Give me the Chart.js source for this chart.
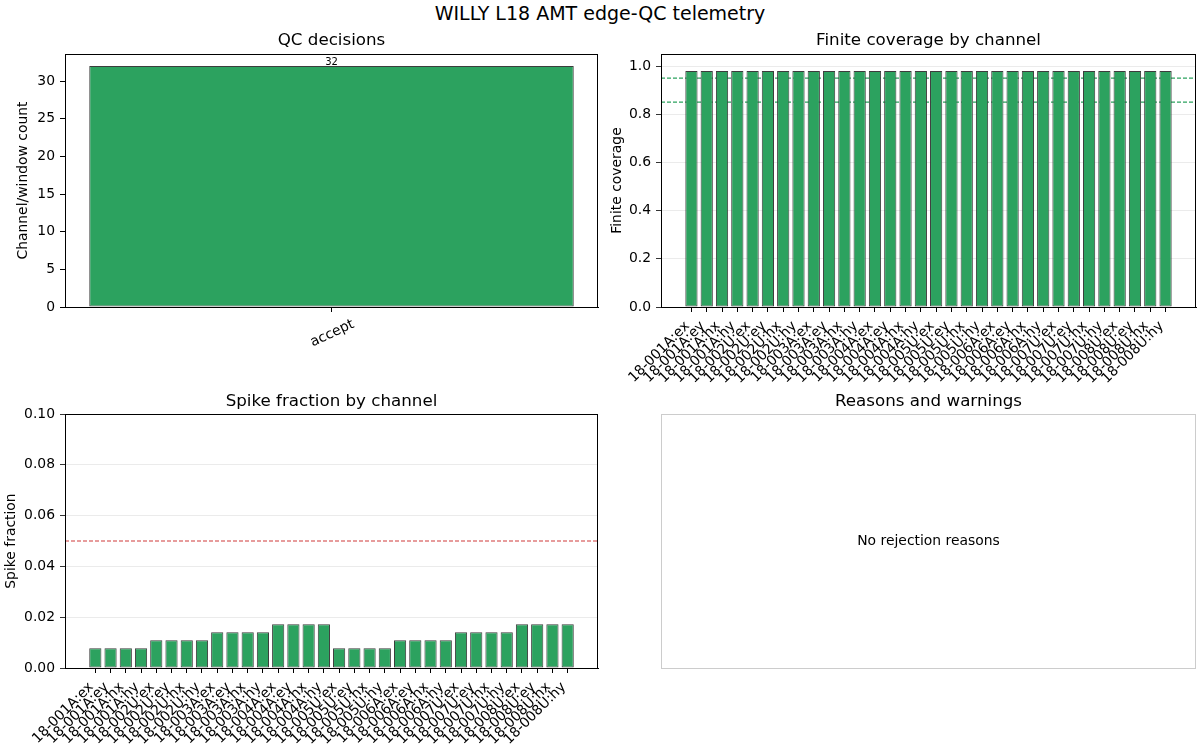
<!DOCTYPE html>
<html>
<head>
<meta charset="utf-8">
<script src="https://cdn.jsdelivr.net/npm/chart.js@4/dist/chart.umd.min.js"></script>
<style>
  html, body { margin: 0; padding: 0; background: #fff; }
  body { width: 1200px; height: 750px; position: relative; overflow: hidden; font-family: 'DejaVu Sans', sans-serif; }
  #sup { position: absolute; left: 0; top: 0; width: 1200px; text-align: center; font-size: 19px; line-height: 26px; color: #000; }
  canvas { position: absolute; }
</style>
</head>
<body>
<div id="sup">WILLY L18 AMT edge-QC telemetry</div>
<canvas id="c1" width="600" height="371" style="left:0px;top:29px"></canvas>
<canvas id="c2" width="600" height="371" style="left:600px;top:29px"></canvas>
<canvas id="c3" width="600" height="360" style="left:0px;top:390px"></canvas>
<canvas id="c4" width="600" height="360" style="left:600px;top:390px"></canvas>
<script>
// ---------------- data ----------------
const decisionLabels = ['accept'];
const decisionCounts = [32];

const channels = [
  '18-001A:ex','18-001A:ey','18-001A:hx','18-001A:hy',
  '18-002U:ex','18-002U:ey','18-002U:hx','18-002U:hy',
  '18-003A:ex','18-003A:ey','18-003A:hx','18-003A:hy',
  '18-004A:ex','18-004A:ey','18-004A:hx','18-004A:hy',
  '18-005U:ex','18-005U:ey','18-005U:hx','18-005U:hy',
  '18-006A:ex','18-006A:ey','18-006A:hx','18-006A:hy',
  '18-007U:ex','18-007U:ey','18-007U:hx','18-007U:hy',
  '18-008U:ex','18-008U:ey','18-008U:hx','18-008U:hy'
];
const finiteCoverage = [
  0.98,0.98,0.98,0.98, 0.98,0.98,0.98,0.98,
  0.98,0.98,0.98,0.98, 0.98,0.98,0.98,0.98,
  0.98,0.98,0.98,0.98, 0.98,0.98,0.98,0.98,
  0.98,0.98,0.98,0.98, 0.98,0.98,0.98,0.98
];
const spikeFraction = [
  0.0078,0.0078,0.0078,0.0078, 0.0109,0.0109,0.0109,0.0109,
  0.0141,0.0141,0.0141,0.0141, 0.0172,0.0172,0.0172,0.0172,
  0.0078,0.0078,0.0078,0.0078, 0.0109,0.0109,0.0109,0.0109,
  0.0141,0.0141,0.0141,0.0141, 0.0172,0.0172,0.0172,0.0172
];
const coverageThresholds = [0.95, 0.85];
const spikeThreshold = 0.05;
const reasonsText = 'No rejection reasons';

// ---------------- styling ----------------
const GREEN = '#2ca25f';
const EDGE = '#3c3c3c';
const RED = '#d03b3b';
const FS = 13.9;
Chart.defaults.font.family = "'DejaVu Sans', sans-serif";
Chart.defaults.font.size = FS;
Chart.defaults.color = '#000';

const frame = (color) => ({
  id: 'frame',
  afterDatasetsDraw(chart) {
    const a = chart.chartArea, ctx = chart.ctx;
    ctx.save();
    ctx.strokeStyle = color;
    ctx.lineWidth = 1;
    ctx.strokeRect(Math.round(a.left) + 0.5, Math.round(a.top) + 0.5,
                   Math.round(a.right) - Math.round(a.left) - 1, Math.round(a.bottom) - Math.round(a.top));
    ctx.restore();
  }
});

function titleOpts(text, padTop, padBottom) {
  return { display: true, text, fullSize: false, font: { size: 16.7, weight: 'normal' },
           color: '#000', padding: { top: padTop, bottom: padBottom } };
}
function yFit(w) { return s => { s.width = w; }; }
function xFit(h) { return s => { s.height = h; }; }

const xMin = -0.4 - 0.05 * 31.8, xMax = 31.4 + 0.05 * 31.8;
const thresholdLine = (y, color) => ({
  type: 'line', data: [{x: xMin, y}, {x: xMax, y}], borderColor: color, borderWidth: 1.2,
  borderDash: [4, 2], pointRadius: 0, fill: false, order: 5
});

function channelXScale(h) {
  return {
    type: 'linear', min: xMin, max: xMax, offset: false,
    afterBuildTicks: s => { s.ticks = channels.map((_, i) => ({ value: i })); },
    afterFit: xFit(h),
    grid: { display: true, drawOnChartArea: false, offset: false, color: '#000', tickColor: '#000', tickLength: 5 },
    border: { display: true, color: '#000' },
    ticks: { autoSkip: false, minRotation: 45, maxRotation: 45, padding: 6, labelOffset: -4, font: { size: FS },
             callback: v => channels[v] }
  };
}

const barStyle = { backgroundColor: GREEN, borderColor: EDGE, borderWidth: 1, borderSkipped: false, categoryPercentage: 1.0 };

// ---------------- chart 1: QC decisions ----------------
new Chart(document.getElementById('c1'), {
  type: 'bar',
  data: { labels: decisionLabels,
          datasets: [Object.assign({ data: decisionCounts, barPercentage: 0.909 }, barStyle)] },
  options: {
    responsive: false, animation: false, devicePixelRatio: 1,
    layout: { padding: { left: 0, right: 2, top: 0, bottom: 0 } },
    plugins: { legend: { display: false }, tooltip: { enabled: false }, title: titleOpts('QC decisions', 2, 3) },
    scales: {
      x: { offset: true, afterFit: xFit(93),
           grid: { display: true, drawOnChartArea: false, offset: false, color: '#000', tickColor: '#000', tickLength: 5 },
           border: { display: true, color: '#000' },
           ticks: { minRotation: 25, maxRotation: 25, padding: 4, labelOffset: 22 } },
      y: { min: 0, max: 33.6, afterFit: yFit(65),
           ticks: { stepSize: 5, includeBounds: false, padding: 5 },
           grid: { display: true, drawOnChartArea: false, color: '#000', tickColor: '#000', tickLength: 5 },
           border: { display: true, color: '#000' },
           title: { display: true, text: 'Channel/window count', font: { size: FS }, padding: { top: 15, bottom: 0 } } }
    }
  },
  plugins: [frame('#000'), {
    id: 'valueLabel',
    afterDatasetsDraw(chart) {
      const ctx = chart.ctx, meta = chart.getDatasetMeta(0);
      ctx.save();
      ctx.font = "10px 'DejaVu Sans'";
      ctx.fillStyle = '#000';
      ctx.textAlign = 'center';
      ctx.textBaseline = 'bottom';
      meta.data.forEach((bar, i) => ctx.fillText(String(decisionCounts[i]), bar.x, bar.y + 1));
      ctx.restore();
    }
  }]
});

// ---------------- chart 2: finite coverage ----------------
new Chart(document.getElementById('c2'), {
  type: 'bar',
  data: { datasets: [
    Object.assign({ data: finiteCoverage.map((v, i) => ({x: i, y: v})), barPercentage: 0.8, order: 0 }, barStyle),
    ...coverageThresholds.map(t => thresholdLine(t, GREEN))
  ] },
  options: {
    responsive: false, animation: false, devicePixelRatio: 1,
    layout: { padding: { left: 0, right: 4, top: 0, bottom: 0 } },
    plugins: { legend: { display: false }, tooltip: { enabled: false }, title: titleOpts('Finite coverage by channel', 2, 3) },
    scales: {
      x: channelXScale(93),
      y: { min: 0, max: 1.05, afterFit: yFit(61),
           ticks: { stepSize: 0.2, includeBounds: false, padding: 5, callback: v => v.toFixed(1) },
           grid: { display: true, drawOnChartArea: true, color: '#e6e6e6', lineWidth: 0.8, tickColor: '#000', tickLength: 5 },
           border: { display: true, color: '#000' },
           title: { display: true, text: 'Finite coverage', font: { size: FS }, padding: { top: 9, bottom: 0 } } }
    }
  },
  plugins: [frame('#000')]
});

// ---------------- chart 3: spike fraction ----------------
new Chart(document.getElementById('c3'), {
  type: 'bar',
  data: { datasets: [
    Object.assign({ data: spikeFraction.map((v, i) => ({x: i, y: v})), barPercentage: 0.8, order: 0 }, barStyle),
    thresholdLine(spikeThreshold, RED)
  ] },
  options: {
    responsive: false, animation: false, devicePixelRatio: 1,
    layout: { padding: { left: 0, right: 2, top: 0, bottom: 0 } },
    plugins: { legend: { display: false }, tooltip: { enabled: false }, title: titleOpts('Spike fraction by channel', 2, 2) },
    scales: {
      x: channelXScale(82),
      y: { min: 0, max: 0.1, afterFit: yFit(65),
           ticks: { stepSize: 0.02, includeBounds: false, padding: 5, callback: v => v.toFixed(2) },
           grid: { display: true, drawOnChartArea: true, color: '#e6e6e6', lineWidth: 0.8, tickColor: '#000', tickLength: 5 },
           border: { display: true, color: '#000' },
           title: { display: true, text: 'Spike fraction', font: { size: FS }, padding: { top: 2.7, bottom: 0 } } }
    }
  },
  plugins: [frame('#000')]
});

// ---------------- chart 4: reasons ----------------
new Chart(document.getElementById('c4'), {
  type: 'bar',
  data: { labels: [], datasets: [] },
  options: {
    responsive: false, animation: false, devicePixelRatio: 1,
    layout: { padding: { left: 61, right: 4, top: 0, bottom: 82 } },
    plugins: { legend: { display: false }, tooltip: { enabled: false }, title: titleOpts('Reasons and warnings', 2, 2) },
    scales: { x: { display: false }, y: { display: false } }
  },
  plugins: [frame('#cccccc'), {
    id: 'reasonText',
    afterDraw(chart) {
      const a = chart.chartArea, ctx = chart.ctx;
      ctx.save();
      ctx.font = FS + "px 'DejaVu Sans'";
      ctx.fillStyle = '#000';
      ctx.textAlign = 'center';
      ctx.textBaseline = 'middle';
      ctx.fillText(reasonsText, (a.left + a.right) / 2, (a.top + a.bottom) / 2);
      ctx.restore();
    }
  }]
});
</script>
</body>
</html>
